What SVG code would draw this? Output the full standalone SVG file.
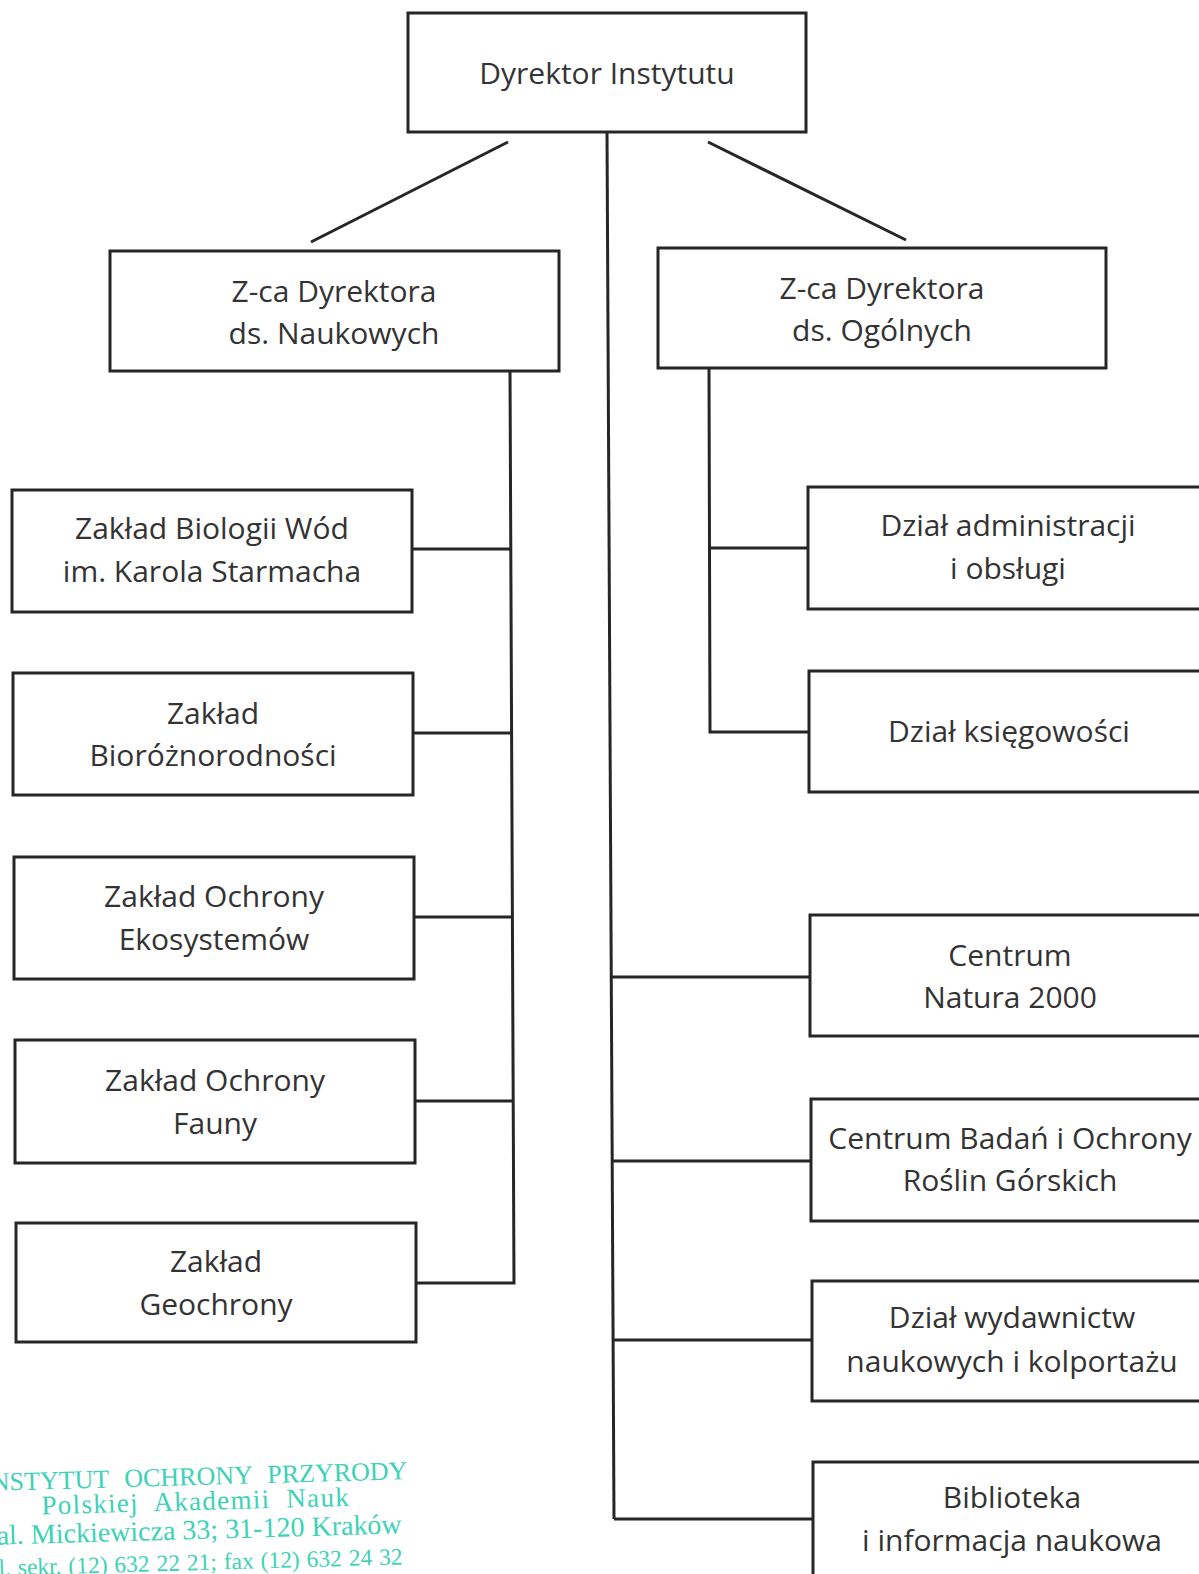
<svg xmlns="http://www.w3.org/2000/svg" width="1199" height="1574" viewBox="0 0 1199 1574">
<style>
.box{fill:#fff;stroke:#262626;stroke-width:3}
.lbl{font-family:"Open Sans","Noto Sans","DejaVu Sans",sans-serif;font-size:30px;fill:#333;text-anchor:middle}
.con line,.con polyline{stroke:#262626;stroke-width:3;fill:none}
.stamp{font-family:"Liberation Serif","Times New Roman",serif;fill:#3dd2b5}
</style>
<rect width="1199" height="1574" fill="#fff"/>
<g class="con" id="connectors">
<line x1="508" y1="142" x2="311" y2="242"/>
<line x1="708" y1="142" x2="906" y2="240"/>
<line x1="607" y1="132" x2="614" y2="1519"/>
<polyline points="510,371 514,1283 416,1283"/>
<line x1="412" y1="549" x2="511" y2="549"/>
<line x1="413" y1="733" x2="512" y2="733"/>
<line x1="414" y1="917" x2="512" y2="917"/>
<line x1="415" y1="1101" x2="513" y2="1101"/>
<polyline points="709,368 710,732 809,732"/>
<line x1="709" y1="548" x2="808" y2="548"/>
<line x1="611" y1="977" x2="810" y2="977"/>
<line x1="612" y1="1161" x2="811" y2="1161"/>
<line x1="613" y1="1340" x2="812" y2="1340"/>
<line x1="614" y1="1519" x2="813" y2="1519"/>
</g>
<g id="dyrektor"><rect class="box" x="408" y="13" width="398" height="119"/><text class="lbl" x="607" y="84">Dyrektor Instytutu</text></g>
<g id="zca-naukowych"><rect class="box" x="110" y="251" width="449" height="120"/><text class="lbl" x="334" y="302">Z-ca Dyrektora</text><text class="lbl" x="334" y="344">ds. Naukowych</text></g>
<g id="zca-ogolnych"><rect class="box" x="658" y="248" width="448" height="120"/><text class="lbl" x="882" y="299">Z-ca Dyrektora</text><text class="lbl" x="882" y="341">ds. Ogólnych</text></g>
<g id="zaklad-biologii"><rect class="box" x="12" y="490" width="400" height="122"/><text class="lbl" x="212" y="539">Zakład Biologii Wód</text><text class="lbl" x="212" y="582">im. Karola Starmacha</text></g>
<g id="zaklad-bioroznorodnosci"><rect class="box" x="13" y="673" width="400" height="122"/><text class="lbl" x="213" y="724">Zakład</text><text class="lbl" x="213" y="766">Bioróżnorodności</text></g>
<g id="zaklad-ekosystemow"><rect class="box" x="14" y="857" width="400" height="122"/><text class="lbl" x="214" y="907">Zakład Ochrony</text><text class="lbl" x="214" y="950">Ekosystemów</text></g>
<g id="zaklad-fauny"><rect class="box" x="15" y="1040" width="400" height="123"/><text class="lbl" x="215" y="1091">Zakład Ochrony</text><text class="lbl" x="215" y="1134">Fauny</text></g>
<g id="zaklad-geochrony"><rect class="box" x="16" y="1223" width="400" height="119"/><text class="lbl" x="216" y="1272">Zakład</text><text class="lbl" x="216" y="1315">Geochrony</text></g>
<g id="dzial-administracji"><rect class="box" x="808" y="487" width="410" height="122"/><text class="lbl" x="1008" y="536">Dział administracji</text><text class="lbl" x="1008" y="579">i obsługi</text></g>
<g id="dzial-ksiegowosci"><rect class="box" x="809" y="671" width="410" height="121"/><text class="lbl" x="1009" y="742">Dział księgowości</text></g>
<g id="centrum-natura"><rect class="box" x="810" y="915" width="410" height="121"/><text class="lbl" x="1010" y="966">Centrum</text><text class="lbl" x="1010" y="1008">Natura 2000</text></g>
<g id="centrum-roslin"><rect class="box" x="811" y="1099" width="410" height="122"/><text class="lbl" x="1010" y="1149">Centrum Badań i Ochrony</text><text class="lbl" x="1010" y="1191">Roślin Górskich</text></g>
<g id="dzial-wydawnictw"><rect class="box" x="812" y="1281" width="410" height="120"/><text class="lbl" x="1012" y="1328">Dział wydawnictw</text><text class="lbl" x="1012" y="1372">naukowych i kolportażu</text></g>
<g id="biblioteka"><rect class="box" x="813" y="1462" width="410" height="130"/><text class="lbl" x="1012" y="1508">Biblioteka</text><text class="lbl" x="1012" y="1551">i informacja naukowa</text></g>
<g id="stamp" transform="rotate(-1.6 200 1510)">
<text class="stamp" x="-17" y="1485" font-size="26" word-spacing="9">INSTYTUT OCHRONY PRZYRODY</text>
<text class="stamp" x="196" y="1510" font-size="27" text-anchor="middle" letter-spacing="1.3" word-spacing="8">Polskiej Akademii Nauk</text>
<text class="stamp" x="-4" y="1539" font-size="28">al. Mickiewicza 33; 31-120 Kraków</text>
<text class="stamp" x="-20" y="1570" font-size="23.5" word-spacing="1">tel. sekr. (12) 632 22 21;  fax (12) 632 24 32</text>
</g>
</svg>
